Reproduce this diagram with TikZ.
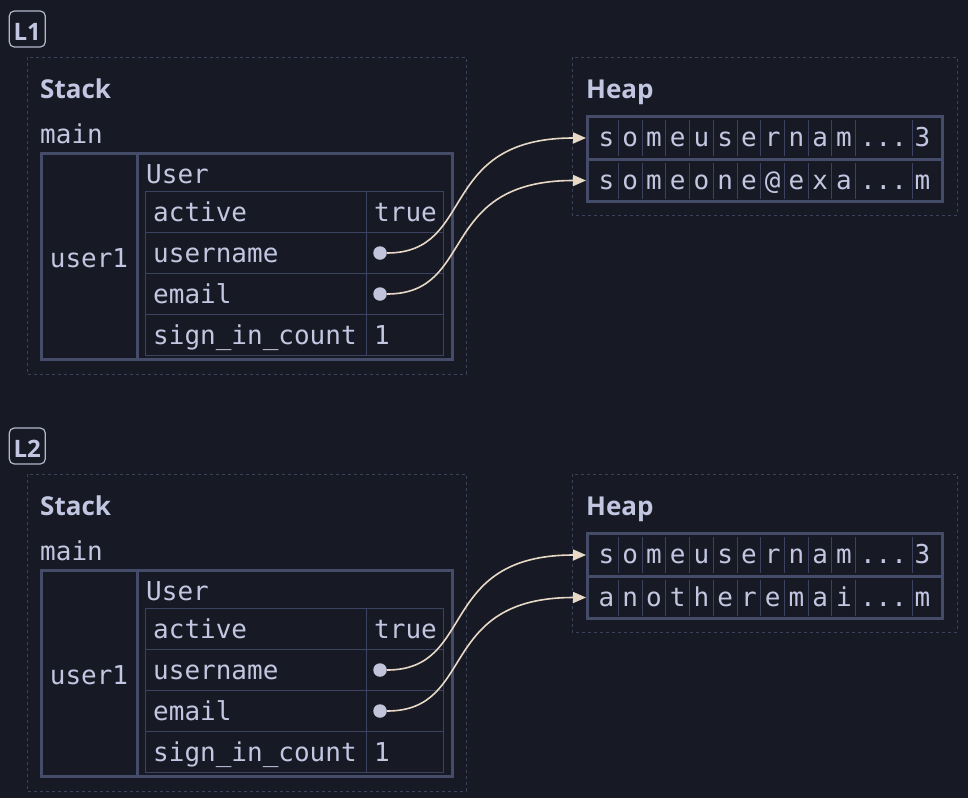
\documentclass[tikz,border=0pt]{standalone}
\usepackage{fontspec}
\setmainfont{Open Sans}
\newfontfamily\codefont{DejaVu Sans Mono}
\usepackage{xcolor}
\usepackage{tikz}
\usetikzlibrary{arrows.meta}
\definecolor{bgdark}{HTML}{171A24}
\definecolor{ink}{HTML}{C2C6E0}
\definecolor{frameline}{HTML}{444C69}
\definecolor{gridline}{HTML}{3C4360}
\definecolor{dashline}{HTML}{3A4159}
\definecolor{tagline}{HTML}{B4B8CC}
\definecolor{dotfill}{HTML}{C2C4DC}
\definecolor{ptrline}{HTML}{E8D8C6}
\tikzset{ code_txt/.style = {inner sep=0pt, anchor=base west, text=ink, font=\codefont\fontsize{26}{30}\selectfont} }
\tikzset{ cell_txt/.style = {code_txt, anchor=base} }
\tikzset{ title_txt/.style = {inner sep=0pt, anchor=base west, text=ink, font=\bfseries\fontsize{26}{30}\selectfont} }
\tikzset{ tag_box/.style = {rectangle, rounded corners=5pt, draw=tagline, line width=1.2pt, minimum size=36pt, inner sep=0pt, text height=22pt, text depth=0pt, text=ink, font=\bfseries\fontsize{24}{26}\selectfont} }
\tikzset{ region/.style = {draw=dashline, line width=1pt, dash pattern=on 3pt off 3pt} }
\tikzset{ thick_line/.style = {draw=frameline, line width=3pt} }
\tikzset{ thin_line/.style = {draw=gridline, line width=1pt} }
\tikzset{ heap_row/.style = {rectangle, thick_line, minimum width=354.5pt, minimum height=42.5pt, inner sep=0pt} }
\tikzset{ ptr_dot/.style = {circle, fill=dotfill, inner sep=0pt, minimum size=13.5pt} }
\tikzset{ ptr/.style = {draw=ptrline, line width=1.6pt, -{Triangle[length=13pt,width=11pt]}} }

\begin{document}
\begin{tikzpicture}[x=1pt,y=-1pt]
\fill [bgdark] (0,0) rectangle (968,798);
\useasboundingbox (0,0) rectangle (968,798);
\foreach \p/\dy/\mail/\lastch in {L1/0/{s,o,m,e,o,n,e,@,e,x,a}/m, L2/417/{a,n,o,t,h,e,r,e,m,a,i}/m} {
\begin{scope}[shift={(0,\dy)}]
        \node [style=tag_box] (\p-tag) at (27.3,29) {\p};
        % stack
        \draw [style=region] (27,57) rectangle (466,374);
        \node [style=title_txt] (\p-stack) at (40,98) {Stack};
        \node [style=code_txt] (\p-main) at (40,143) {main};
        \draw [style=thick_line] (41.5,153.5) rectangle (452.5,359) (137,153.5) -- (137,359);
        \node [style=cell_txt] (\p-user1) at (89,267) {user1};
        \node [style=code_txt] (\p-User) at (146,183) {User};
        \draw [style=thin_line] (145.5,191) rectangle (443.5,355) (366,191) -- (366,355);
        \foreach \yy in {232,273,314} \draw [style=thin_line] (145.5,\yy) -- (443.5,\yy);
        \node [style=code_txt] (\p-active) at (153,221) {active};
        \node [style=code_txt] (\p-username) at (153,262) {username};
        \node [style=code_txt] (\p-email) at (153,303) {email};
        \node [style=code_txt] (\p-count) at (153,344) {sign\_in\_count};
        \node [style=code_txt] (\p-vactive) at (374,221) {true};
        \node [style=ptr_dot] (\p-vusername) at (380,253) {};
        \node [style=ptr_dot] (\p-vemail) at (380,294) {};
        \node [style=code_txt] (\p-vcount) at (374,344) {1};
        % heap
        \draw [style=region] (572,57) rectangle (957,215);
        \node [style=title_txt] (\p-heap) at (586,98) {Heap};
        \node [style=heap_row] (\p-h1) at (764.75,138) {};
        \node [style=heap_row] (\p-h2) at (764.75,180.5) {};
        \foreach \xx in {0,...,10}
            \draw [style=thin_line] ({618.3+23.74*\xx},120) -- +(0,36) ({618.3+23.74*\xx},163) -- +(0,36);
        \draw [style=thin_line] (912,120) -- +(0,36) (912,163) -- +(0,36);
        \foreach \ch [count=\i from 0] in {s,o,m,e,u,s,e,r,n,a,m}
            \node [style=cell_txt] (\p-a\i) at ({606.5+23.74*\i},146.7) {\ch};
        \foreach \ch [count=\i from 0] in \mail
            \node [style=cell_txt] (\p-b\i) at ({606.5+23.74*\i},189.3) {\ch};
        \node [style=cell_txt] (\p-a11) at (883.5,146.7) {...};
        \node [style=cell_txt] (\p-b11) at (883.5,189.3) {...};
        \node [style=cell_txt] (\p-a12) at (922.5,146.7) {3};
        \node [style=cell_txt] (\p-b12) at (922.5,189.3) {\lastch};
        % pointers
        \draw [style=ptr] (\p-vusername.east) .. controls +(90,0) and +(-150,0) .. (\p-h1.west);
        \draw [style=ptr] (\p-vemail.east) .. controls +(90,0) and +(-150,0) .. (\p-h2.west);
\end{scope}
}
\end{tikzpicture}
\end{document}
